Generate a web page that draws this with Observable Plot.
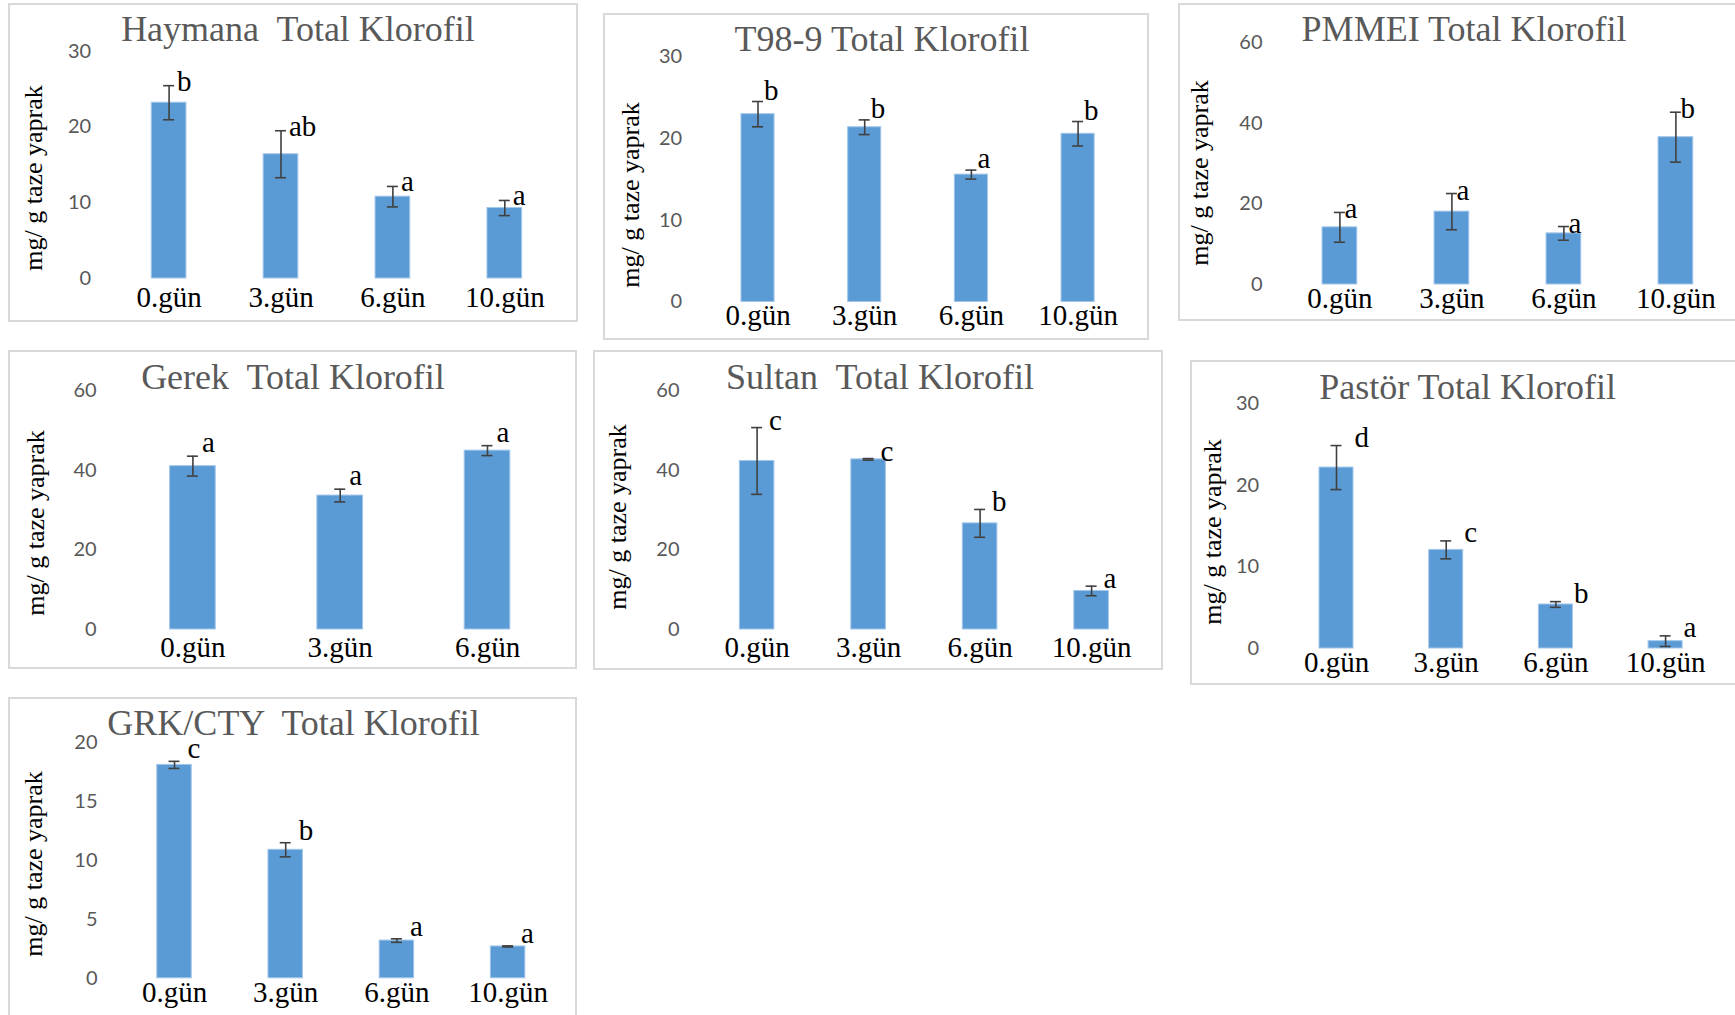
<!DOCTYPE html>
<html><head><meta charset="utf-8">
<script src="https://cdn.jsdelivr.net/npm/d3@7"></script>
<script src="https://cdn.jsdelivr.net/npm/@observablehq/plot@0.6"></script>
<style>
html,body{margin:0;padding:0;background:#fff;}
#page{position:relative;width:1735px;height:1015px;overflow:hidden;background:#fff;}
.box{position:absolute;border:2px solid #d9d9d9;box-sizing:border-box;}
</style></head><body><div id="page"></div>
<script>
// ---- data ----
const days4 = ["0.gün", "3.gün", "6.gün", "10.gün"];
const days3 = ["0.gün", "3.gün", "6.gün"];
const yLabel = "mg/ g taze yaprak";

const haymanaMean = [23.2, 16.4, 10.8, 9.3];
const haymanaErr = [2.25, 3.1, 1.35, 1.0];
const haymanaLetters = ["b", "ab", "a", "a"];

const t989Mean = [23.0, 21.4, 15.6, 20.6];
const t989Err = [1.55, 0.9, 0.55, 1.5];
const t989Letters = ["b", "b", "a", "b"];

const pmmeiMean = [14.2, 18.1, 12.7, 36.6];
const pmmeiErr = [3.7, 4.5, 1.7, 6.2];
const pmmeiLetters = ["a", "a", "a", "b"];

const gerekMean = [41.1, 33.7, 45.0];
const gerekErr = [2.5, 1.6, 1.25];
const gerekLetters = ["a", "a", "a"];

const sultanMean = [42.4, 42.8, 26.7, 9.7];
const sultanErr = [8.4, 0.2, 3.5, 1.2];
const sultanLetters = ["c", "c", "b", "a"];

const pastorMean = [22.2, 12.1, 5.4, 0.9];
const pastorErr = [2.7, 1.1, 0.35, 0.65];
const pastorLetters = ["d", "c", "b", "a"];

const grkMean = [18.1, 10.9, 3.2, 2.7];
const grkErr = [0.3, 0.6, 0.15, 0.05];
const grkLetters = ["c", "b", "a", "a"];

const ticks30 = [0, 10, 20, 30];
const ticks60 = [0, 20, 40, 60];
const ticks20 = [0, 5, 10, 15, 20];

// ---- layout (page pixels) ----
const panels = [
  {title: "Haymana  Total Klorofil", days: days4, mean: haymanaMean, err: haymanaErr, letters: haymanaLetters, ticks: ticks30,
   L: {box: [8, 3, 578, 322], zeroY: 278, topY: 50.7, c0: 168.6, step: 111.9, tickRight: 90.7, title: [298, 41], ylab: [36, 178], xOff: 22.4, ldx: 8, ldy: 5}},
  {title: "T98-9 Total Klorofil", days: days4, mean: t989Mean, err: t989Err, letters: t989Letters, ticks: ticks30,
   L: {box: [603, 13, 1149, 340], zeroY: 301.5, topY: 56.5, c0: 757.5, step: 106.7, tickRight: 681.6, title: [882, 51], ylab: [633, 195], xOff: 16.7, ldx: 6, ldy: -2}},
  {title: "PMMEI Total Klorofil", days: days4, mean: pmmeiMean, err: pmmeiErr, letters: pmmeiLetters, ticks: ticks60,
   L: {box: [1178, 3, 1745, 321], zeroY: 284, topY: 42.5, c0: 1339.4, step: 112, tickRight: 1262, title: [1464, 41], ylab: [1202, 173], xOff: 17.3, ldx: 4.5, ldy: 6}},
  {title: "Gerek  Total Klorofil", days: days3, mean: gerekMean, err: gerekErr, letters: gerekLetters, ticks: ticks60,
   L: {box: [8, 350, 577, 669], zeroY: 629, topY: 390.5, c0: 192.4, step: 147.3, tickRight: 96.2, title: [293, 388.5], ylab: [38, 523], xOff: 20.7, ldx: 9, ldy: -4}},
  {title: "Sultan  Total Klorofil", days: days4, mean: sultanMean, err: sultanErr, letters: sultanLetters, ticks: ticks60,
   L: {box: [593, 350, 1163, 670], zeroY: 629, topY: 390.5, c0: 756.6, step: 111.5, tickRight: 679, title: [880, 388.5], ylab: [620, 517], xOff: 20.7, ldx: 12, ldy: 2}},
  {title: "Pastör Total Klorofil", days: days4, mean: pastorMean, err: pastorErr, letters: pastorLetters, ticks: ticks30,
   L: {box: [1190, 360, 1745, 685], zeroY: 648, topY: 403.5, c0: 1336, step: 109.7, tickRight: 1258.6, title: [1467.6, 398.5], ylab: [1215, 532], xOff: 16.5, ldx: 18, ldy: 1}},
  {title: "GRK/CTY  Total Klorofil", days: days4, mean: grkMean, err: grkErr, letters: grkLetters, ticks: ticks20,
   L: {box: [8, 697, 577, 1025], zeroY: 977.8, topY: 742, c0: 174, step: 111.2, tickRight: 97, title: [293.6, 734.5], ylab: [36, 864], xOff: 17.3, ldx: 13, ldy: -3}}
];

const serif = "'Liberation Serif', 'Times New Roman', serif";
const page = document.getElementById("page");

for (const p of panels) {
  const L = p.L;
  const [bx0, by0, bx1, by1] = L.box;
  const W = bx1 - bx0, H = by1 - by0;
  const n = p.days.length;
  const data = p.days.map((d, i) => ({day: d, mean: p.mean[i], err: p.err[i], letter: p.letters[i]}));
  const pad = 0.69;
  const bw = L.step * (1 - pad);
  const capInset = (bw - 11) / 2;
  const chart = Plot.plot({
    width: W, height: H,
    marginTop: L.topY - by0, marginBottom: by1 - L.zeroY, marginLeft: L.tickRight - bx0, marginRight: 0,
    style: {background: "transparent", overflow: "visible", fontFamily: "Lato, sans-serif", fontSize: "20px"},
    x: {type: "band", domain: p.days, range: [L.c0 - L.step / 2 - bx0, L.c0 + (n - 0.5) * L.step - bx0], paddingInner: pad, paddingOuter: pad / 2, round: false},
    y: {domain: [0, p.ticks[p.ticks.length - 1]], range: [L.zeroY - by0, L.topY - by0]},
    marks: [
      Plot.barY(data, {x: "day", y: "mean", fill: "#5b9bd5", stroke: "#a3c6ea", strokeWidth: 1}),
      Plot.ruleX(data, {x: "day", y1: d => d.mean - d.err, y2: d => d.mean + d.err, stroke: "#404040", strokeWidth: 1.6}),
      Plot.tickY(data, {x: "day", y: d => d.mean + d.err, inset: capInset, stroke: "#404040", strokeWidth: 1.6}),
      Plot.tickY(data, {x: "day", y: d => d.mean - d.err, inset: capInset, stroke: "#404040", strokeWidth: 1.6}),
      Plot.text(data, {x: "day", y: d => d.mean + d.err, text: "letter", textAnchor: "start", lineAnchor: "bottom", dx: L.ldx, dy: L.ldy, fontFamily: serif, fontSize: 29, fill: "black"}),
      Plot.axisY({ticks: p.ticks, tickSize: 0, tickPadding: 0, color: "#595959", label: null, tickFormat: d => String(d)}),
      Plot.axisX({tickSize: 0, tickPadding: L.xOff - 14, fontFamily: serif, fontSize: 29, color: "black", label: null})
    ]
  });
  chart.style.position = "absolute";
  chart.style.left = bx0 + "px";
  chart.style.top = by0 + "px";
  chart.style.maxWidth = "none";
  page.appendChild(chart);
}

for (const p of panels) {
  const [bx0, by0, bx1, by1] = p.L.box;
  const b = document.createElement("div");
  b.className = "box";
  b.style.left = bx0 + "px"; b.style.top = by0 + "px";
  b.style.width = (bx1 - bx0) + "px"; b.style.height = (by1 - by0) + "px";
  page.appendChild(b);
}

const svg = d3.select(page).append("svg")
  .attr("width", 1735).attr("height", 1015)
  .style("position", "absolute").style("left", 0).style("top", 0).style("pointer-events", "none");
for (const p of panels) {
  const L = p.L;
  svg.append("text")
    .attr("x", L.title[0]).attr("y", L.title[1])
    .attr("text-anchor", "middle")
    .attr("font-family", serif).attr("font-size", 36).attr("fill", "#595959")
    .style("white-space", "pre")
    .text(p.title);
  svg.append("text")
    .attr("transform", `translate(${L.ylab[0] + 6},${L.ylab[1]}) rotate(-90)`)
    .attr("text-anchor", "middle")
    .attr("font-family", serif).attr("font-size", 26).attr("fill", "black")
    .text(yLabel);
}
</script>
</body></html>
